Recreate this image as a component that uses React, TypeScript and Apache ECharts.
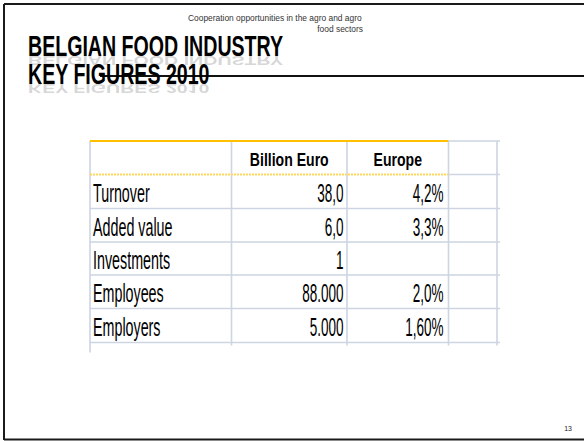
import React, { useEffect, useRef } from "react";
import * as echarts from "echarts";

const titleLines = ["BELGIAN FOOD INDUSTRY", "KEY FIGURES 2010"];
const headerNote = ["Cooperation opportunities in the agro and agro", "food sectors"];
const columns = ["", "Billion Euro", "Europe", ""];
const rowLabels = ["Turnover", "Added value", "Investments", "Employees", "Employers"];
const billionEuro = ["38,0", "6,0", "1", "88.000", "5.000"];
const europeShare = ["4,2%", "3,3%", "", "2,0%", "1,60%"];
const pageNumber = "13";

const colX = [90, 231.5, 347, 448.5, 497];
const rowY = [141, 174.5, 208.5, 242, 275, 308.5, 342.5];
const GRID = "#cdd5e2";
const FONT = "'Liberation Sans', Arial, sans-serif";

export default function App() {
  const ref = useRef<HTMLDivElement>(null);
  useEffect(() => {
    if (!ref.current) return;
    const chart = echarts.init(ref.current, null, { renderer: "svg", width: 584, height: 441 });
    const g: any[] = [];
    const line = (x1: number, y1: number, x2: number, y2: number, stroke: string, lw: number, dash?: number[]) =>
      g.push({ type: "line", shape: { x1, y1, x2, y2 }, style: { stroke, lineWidth: lw, lineDash: dash }, silent: true });

    // slide frame
    line(4, 4, 584, 4, "#1a1a1a", 2);
    line(4, 4, 4, 440, "#1a1a1a", 2);
    line(4, 439.5, 584, 439.5, "#1a1a1a", 2);

    // header note
    g.push({ type: "text", x: 188, y: 17.5, scaleX: 0.99, style: { text: headerNote[0], font: `8.5px ${FONT}`, fill: "#333", align: "left", verticalAlign: "middle" } });
    g.push({ type: "text", x: 363, y: 29, scaleX: 0.99, style: { text: headerNote[1], font: `8.5px ${FONT}`, fill: "#333", align: "right", verticalAlign: "middle" } });

    // title reflections (drawn first, under everything)
    const refY = [54, 82];
    titleLines.forEach((t, i) => {
      g.push({
        type: "text", x: 28, y: refY[i], scaleX: 0.7, scaleY: -0.45,
        style: { text: t, font: `bold 28px ${FONT}`, align: "left", verticalAlign: "bottom", fill: "rgba(0,0,0,0.18)" },
      });
    });

    // title line
    line(100, 76, 584, 76, "#111", 2);

    // title
    const base = [55.5, 83.5];
    titleLines.forEach((t, i) => {
      g.push({ type: "text", x: 28, y: base[i] + 5, scaleX: 0.7, scaleY: 1.04, style: { text: t, font: `bold 28px ${FONT}`, fill: "#000", align: "left", verticalAlign: "bottom" } });
    });

    // table grid
    const top = rowY[0];
    const bottom = rowY[rowY.length - 1];
    colX.forEach((x, i) => line(x, top, x, i === 0 ? bottom + 10 : bottom + 3, GRID, 1.6));
    rowY.forEach((y, i) => {
      if (i === 0) {
        line(colX[0], y, colX[3], y, "#ffc000", 2.2);
        line(colX[3], y, colX[4] + 3, y, GRID, 1.6);
      } else if (i === 1) {
        line(colX[0], y, colX[3], y, "#ffd75e", 2, [2, 1]);
        line(colX[3], y, colX[4] + 3, y, GRID, 1.6);
      } else {
        line(colX[0], y, colX[4] + 3, y, GRID, 1.6);
      }
    });

    // header texts
    columns.forEach((c, i) => {
      if (!c) return;
      g.push({ type: "text", x: (colX[i] + colX[i + 1]) / 2, y: (rowY[0] + rowY[1]) / 2 + 1, scaleX: 0.76, style: { text: c, font: `bold 18.5px ${FONT}`, fill: "#000", align: "center", verticalAlign: "middle" } });
    });

    // body
    rowLabels.forEach((lab, r) => {
      const cy = (rowY[r + 1] + rowY[r + 2]) / 2 + 1;
      g.push({ type: "text", x: colX[0] + 3, y: cy, scaleX: 0.55, style: { text: lab, font: `26px ${FONT}`, fill: "#000", align: "left", verticalAlign: "middle" } });
      g.push({ type: "text", x: colX[2] - 3.5, y: cy, scaleX: 0.52, style: { text: billionEuro[r], font: `26px ${FONT}`, fill: "#000", align: "right", verticalAlign: "middle" } });
      if (europeShare[r]) g.push({ type: "text", x: colX[3] - 5, y: cy, scaleX: 0.52, style: { text: europeShare[r], font: `26px ${FONT}`, fill: "#000", align: "right", verticalAlign: "middle" } });
    });

    // page number
    g.push({ type: "text", x: 572, y: 428.5, style: { text: pageNumber, font: `7px ${FONT}`, fill: "#222", align: "right", verticalAlign: "middle" } });

    chart.setOption({ animation: false, backgroundColor: "#fff", graphic: { elements: g } });
    return () => chart.dispose();
  }, []);
  return <div ref={ref} style={{ position: "absolute", left: 0, top: 0, width: 584, height: 441 }} />;
}
